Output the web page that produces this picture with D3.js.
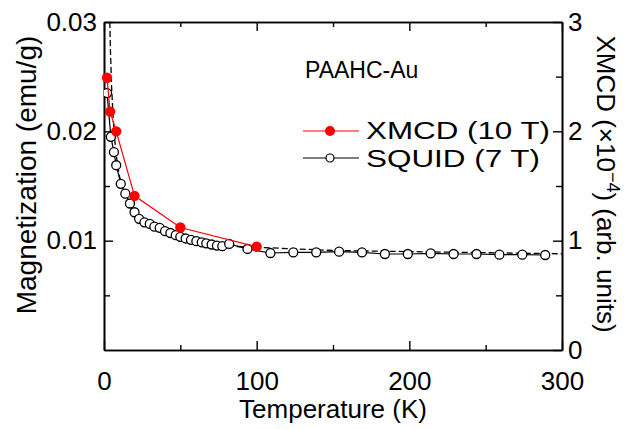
<!DOCTYPE html>
<html><head><meta charset="utf-8">
<script src="https://cdn.jsdelivr.net/npm/d3@7"></script>
<style>
body{margin:0;background:#fff;}
svg{display:block;}
text{font-family:"Liberation Sans",Arial,Helvetica,sans-serif;fill:#000;}
</style></head>
<body><svg id="c" width="635" height="429"></svg>
<script>
// ---- data ----
const xmcdT = [2, 4, 8, 20, 50, 100];
const xmcdV = [2.49, 2.18, 2.00, 1.41, 1.12, 0.945];          // ×10^-4 (right axis)

const squidT = [2, 4.5, 6.5, 8, 11, 14, 17, 20, 23, 26.5, 30, 33, 36.5, 40, 43.5, 47, 50, 53.5, 57, 60.5, 64, 67, 70.5, 74, 77.5, 82, 94, 109, 124, 139, 154, 169, 184, 199, 214, 229, 244, 259, 274, 289];
const squidM = [0.0235, 0.0195, 0.0181, 0.0169, 0.0152, 0.0143, 0.0134, 0.0126, 0.0120, 0.01168, 0.01153, 0.01128, 0.01117, 0.01087, 0.0107, 0.0105, 0.01035, 0.0102, 0.01008, 0.00995, 0.00985, 0.00976, 0.00965, 0.00955, 0.0095, 0.0097, 0.00924, 0.00887, 0.00893, 0.00893, 0.00899, 0.00893, 0.00878, 0.00878, 0.00884, 0.00878, 0.00878, 0.00872, 0.00872, 0.00869];

const fitT = [3.8, 4.2, 5, 6, 7, 8, 10, 12, 15, 20, 25, 30, 40, 50, 60, 70, 80, 100, 150, 200, 250, 300];
const fitM = [0.030, 0.0275, 0.0240, 0.0212, 0.0193, 0.0178, 0.0160, 0.0147, 0.0135, 0.0124, 0.0117, 0.0112, 0.0106, 0.0102, 0.0099, 0.0097, 0.0095, 0.0094, 0.0091, 0.0090, 0.0089, 0.0088];

const xTicks = [0, 100, 200, 300];
const xMinor = [50, 150, 250];
const yLTicks = [0.01, 0.02, 0.03];
const yLMinor = [0.005, 0.015, 0.025];
const yRTicks = [0, 1, 2, 3];
const yRMinor = [0.5, 1.5, 2.5];

// ---- layout ----
const L = 104, R = 562, T = 22, B = 350;
const svg = d3.select("#c");
const x = d3.scaleLinear().domain([0, 300]).range([L, R]);
const yL = d3.scaleLinear().domain([0, 0.03]).range([B, T]);
const yR = d3.scaleLinear().domain([0, 3]).range([B, T]);

svg.append("defs").append("clipPath").attr("id", "clip")
  .append("rect").attr("x", L).attr("y", T).attr("width", R - L).attr("height", B - T);

const FS = 26;
function styleAxis(g){
  g.select(".domain").attr("stroke", "#000").attr("stroke-width", 1.6);
  g.selectAll(".tick line").attr("stroke", "#000").attr("stroke-width", 1.4);
  g.selectAll("text").attr("font-size", FS).attr("font-family", '"Liberation Sans",Arial,sans-serif').attr("fill", "#000");
}

// bottom
svg.append("g").attr("transform", `translate(0,${B})`)
  .call(d3.axisBottom(x).tickValues(xTicks).tickSizeInner(-9).tickSizeOuter(0).tickPadding(22).tickFormat(d3.format("d")))
  .call(styleAxis);
svg.append("g").attr("transform", `translate(0,${B})`)
  .call(d3.axisBottom(x).tickValues(xMinor).tickSizeInner(-5).tickSizeOuter(0).tickFormat(""))
  .call(styleAxis);
// top
svg.append("g").attr("transform", `translate(0,${T})`)
  .call(d3.axisTop(x).tickValues(xTicks).tickSizeInner(-9).tickSizeOuter(0).tickFormat(""))
  .call(styleAxis);
svg.append("g").attr("transform", `translate(0,${T})`)
  .call(d3.axisTop(x).tickValues(xMinor).tickSizeInner(-5).tickSizeOuter(0).tickFormat(""))
  .call(styleAxis);
// left
svg.append("g").attr("transform", `translate(${L},0)`)
  .call(d3.axisLeft(yL).tickValues(yLTicks).tickSizeInner(-9).tickSizeOuter(0).tickPadding(7).tickFormat(d3.format(".2f")))
  .call(styleAxis);
svg.append("g").attr("transform", `translate(${L},0)`)
  .call(d3.axisLeft(yL).tickValues(yLMinor).tickSizeInner(-6).tickSizeOuter(0).tickFormat(""))
  .call(styleAxis);
// right
svg.append("g").attr("transform", `translate(${R},0)`)
  .call(d3.axisRight(yR).tickValues(yRTicks).tickSizeInner(-9).tickSizeOuter(0).tickPadding(6).tickFormat(d3.format("d")))
  .call(styleAxis);
svg.append("g").attr("transform", `translate(${R},0)`)
  .call(d3.axisRight(yR).tickValues(yRMinor).tickSizeInner(-6).tickSizeOuter(0).tickFormat(""))
  .call(styleAxis);

// axis titles
svg.append("text").attr("x", (L + R) / 2).attr("y", 418).attr("text-anchor", "middle")
  .attr("font-size", FS).text("Temperature (K)");
svg.append("text").attr("transform", `translate(36,${(T + B) / 2 - 11}) rotate(-90)`).attr("text-anchor", "middle")
  .attr("font-size", 28).text("Magnetization (emu/g)");
const rt = svg.append("text").attr("transform", `translate(597,${(T + B) / 2 - 2}) rotate(90)`).attr("text-anchor", "middle")
  .attr("font-size", FS);
rt.append("tspan").text("XMCD (\u00d710");
rt.append("tspan").attr("dy", -10).attr("font-size", 18).text("\u22124");
rt.append("tspan").attr("dy", 10).text(") (arb. units)");

// ---- data marks ----
const plot = svg.append("g").attr("clip-path", "url(#clip)");
const fitData = fitT.map((t, i) => [t, fitM[i]]);
plot.append("path").datum(fitData)
  .attr("d", d3.line().x(d => x(d[0])).y(d => yL(d[1])))
  .attr("fill", "none").attr("stroke", "#000").attr("stroke-width", 1.3).attr("stroke-dasharray", "6,3");

const sq = squidT.map((t, i) => [t, squidM[i]]);
plot.append("path").datum(sq)
  .attr("d", d3.line().x(d => x(d[0])).y(d => yL(d[1])))
  .attr("fill", "none").attr("stroke", "#000").attr("stroke-width", 1.2);
plot.selectAll("circle.sq").data(sq).enter().append("circle").attr("class", "sq")
  .attr("cx", d => x(d[0])).attr("cy", d => yL(d[1])).attr("r", 4.5)
  .attr("fill", "#fff").attr("stroke", "#000").attr("stroke-width", 1.3);

const xm = xmcdT.map((t, i) => [t, xmcdV[i]]);
svg.append("path").datum(xm)
  .attr("d", d3.line().x(d => x(d[0])).y(d => yR(d[1])))
  .attr("fill", "none").attr("stroke", "#f00").attr("stroke-width", 1.2);
svg.selectAll("circle.xm").data(xm).enter().append("circle").attr("class", "xm")
  .attr("cx", d => x(d[0])).attr("cy", d => yR(d[1])).attr("r", 5.2)
  .attr("fill", "#f00");

// ---- legend ----
svg.append("text").attr("x", 305).attr("y", 78).attr("font-size", 23).text("PAAHC-Au");
const lg = svg.append("g");
lg.append("line").attr("x1", 303).attr("x2", 359).attr("y1", 131).attr("y2", 131).attr("stroke", "#f00").attr("stroke-width", 1.2);
lg.append("circle").attr("cx", 330).attr("cy", 131).attr("r", 5).attr("fill", "#f00");
lg.append("text").attr("x", 366).attr("y", 139).attr("font-size", 23)
  .attr("textLength", 184).attr("lengthAdjust", "spacingAndGlyphs").text("XMCD (10 T)");
lg.append("line").attr("x1", 303).attr("x2", 359).attr("y1", 158).attr("y2", 158).attr("stroke", "#000").attr("stroke-width", 1.2);
lg.append("circle").attr("cx", 330).attr("cy", 158).attr("r", 4).attr("fill", "#fff").attr("stroke", "#000").attr("stroke-width", 1.2);
lg.append("text").attr("x", 366).attr("y", 167).attr("font-size", 23)
  .attr("textLength", 174).attr("lengthAdjust", "spacingAndGlyphs").text("SQUID (7 T)");
</script></body></html>
